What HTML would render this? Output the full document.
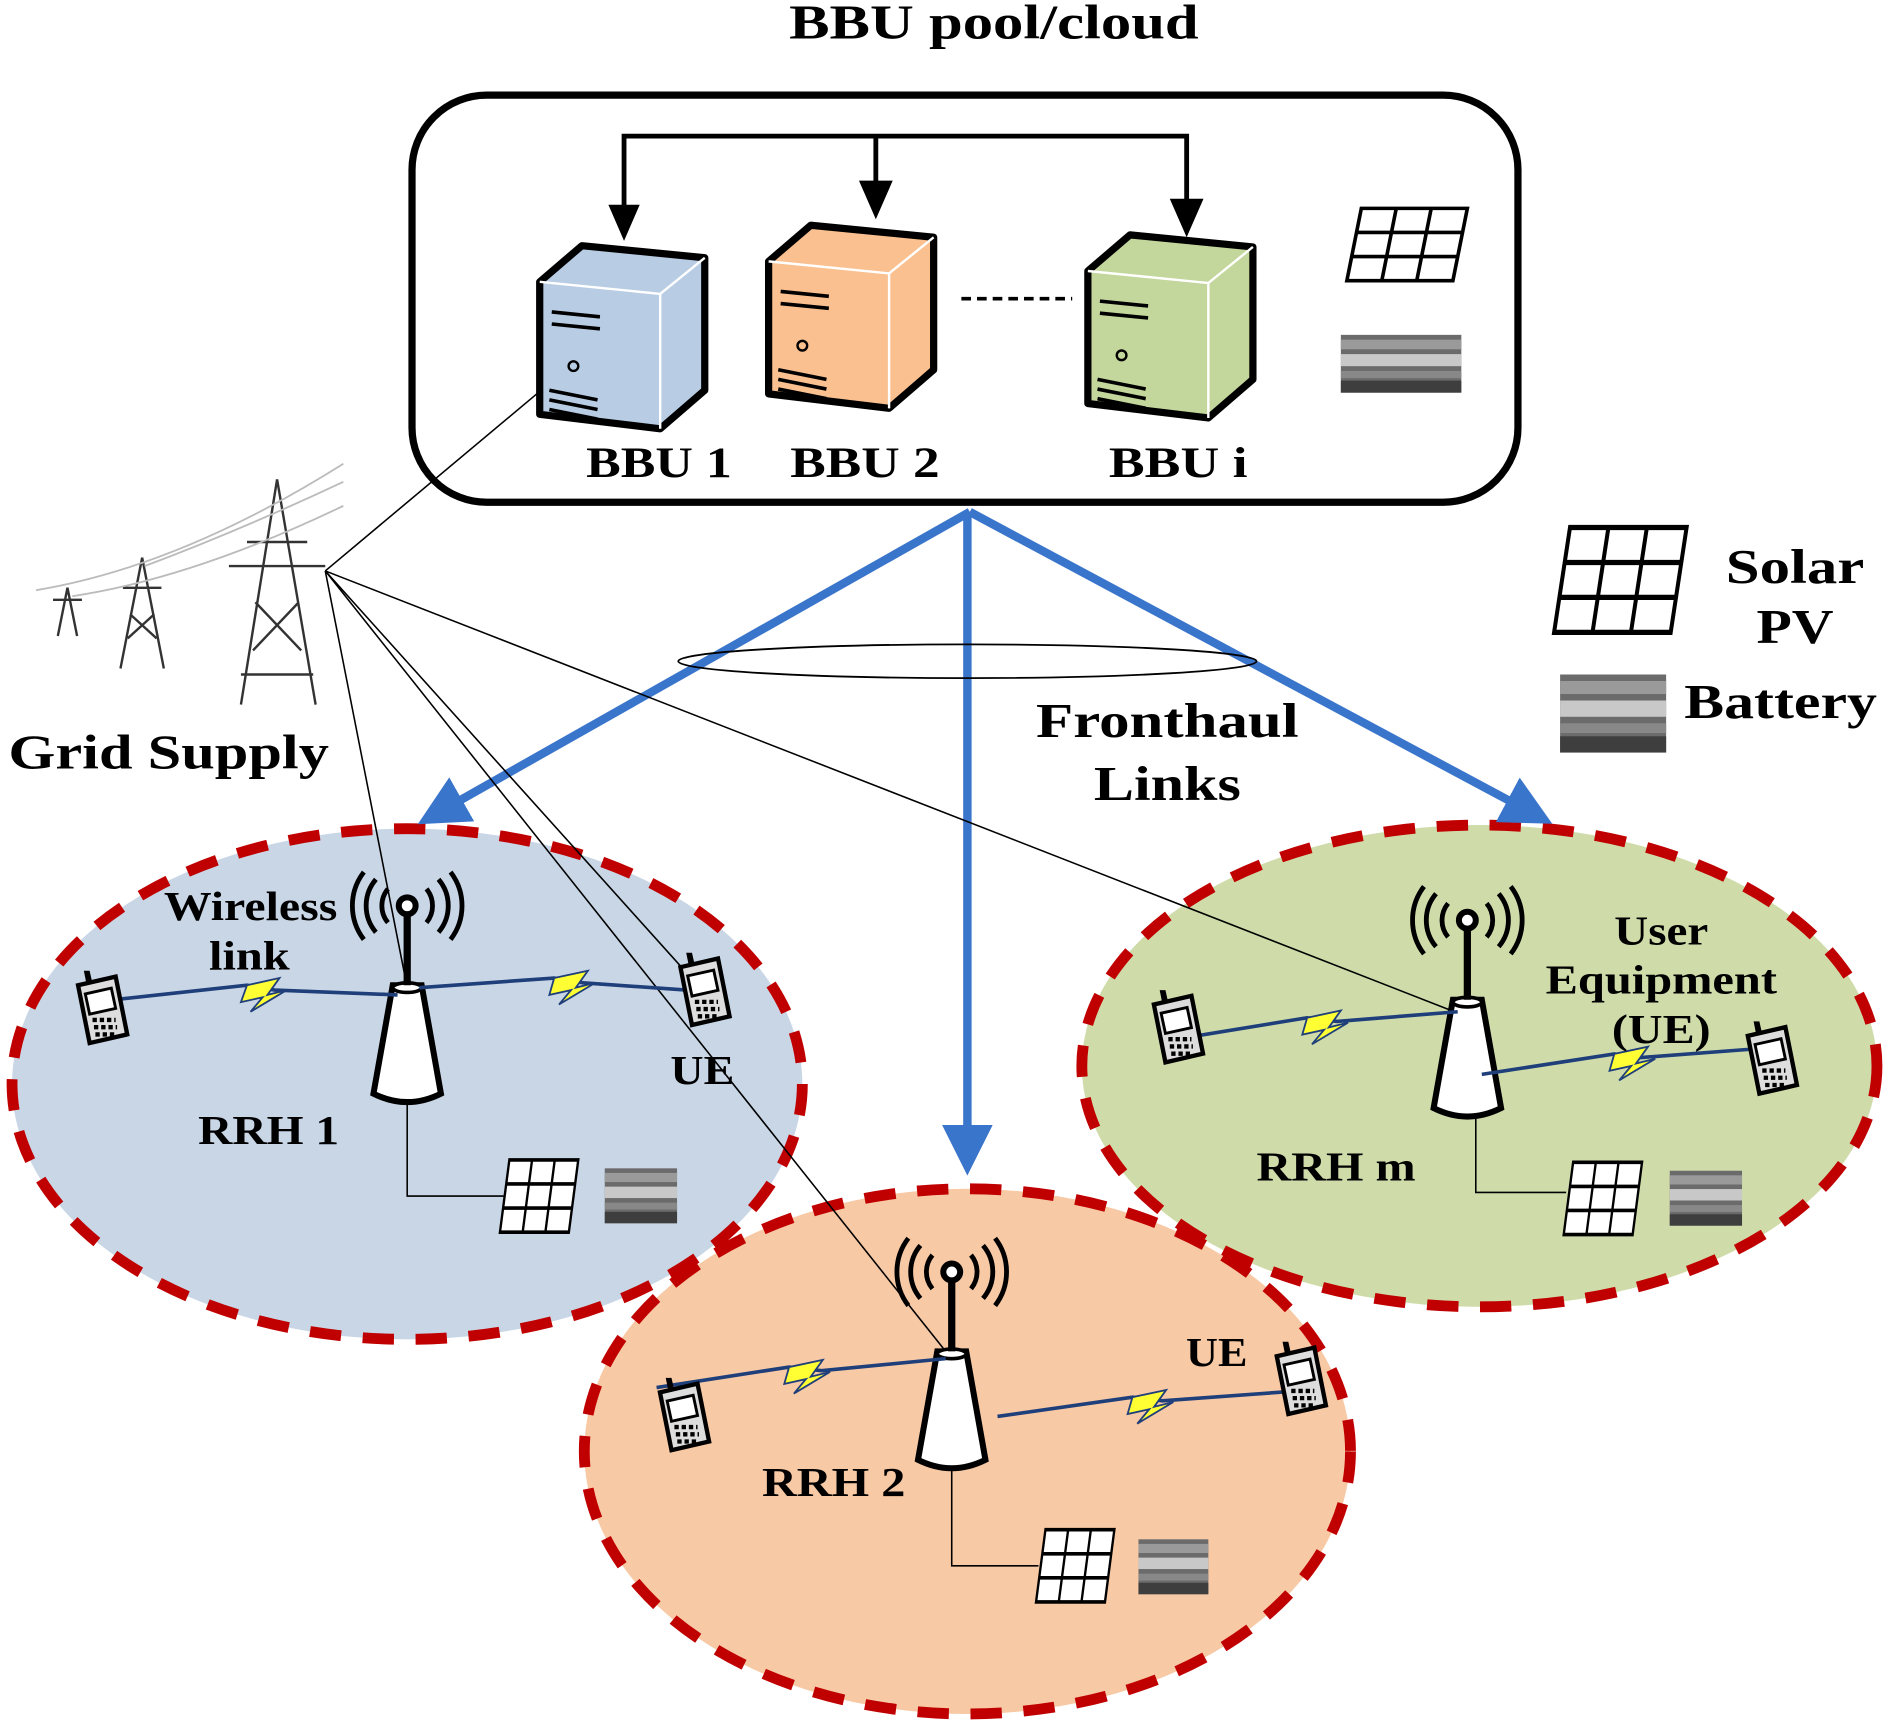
<!DOCTYPE html>
<html><head><meta charset="utf-8"><style>html,body{margin:0;padding:0;background:#fff}svg{display:block}</style></head>
<body>
<svg width="1889" height="1726" viewBox="0 0 1568 1433" preserveAspectRatio="none" xmlns="http://www.w3.org/2000/svg" font-family="Liberation Serif, serif" font-weight="bold">
<defs>
<g id="panel"><path d="M12 0 H100 L88 60 H0 Z" fill="#fff" stroke="#000" stroke-width="3"/><path d="M41 0 L29 60 M70 0 L58 60 M8 20 H96 M4 40 H92" stroke="#000" stroke-width="3"/></g>
<g id="bat"><rect width="100" height="48" fill="#6b6b6b"/><rect y="4" width="100" height="8" fill="#9a9a9a"/><rect y="16" width="100" height="10" fill="#c8c8c8"/><rect y="30" width="100" height="6" fill="#888"/><rect y="38" width="100" height="10" fill="#3e3e3e"/></g>
<g id="phone"><path d="M4 10 L30 4 L38 44 L12 50 Z" fill="#ddd" stroke="#000" stroke-width="3"/><path d="M9 16 L27 12 L30 26 L12 30 Z" fill="#fff" stroke="#000" stroke-width="2"/><path d="M14 34h16M15 39h16M16 44h14" stroke="#000" stroke-width="3" stroke-dasharray="3 2"/><path d="M10 10 L8 0 L12 0 L14 9" fill="#000"/></g>
<g id="rrh"><path d="M-12 0 L12 0 L28 90 Q0 104 -28 90 Z" fill="#fff" stroke="#000" stroke-width="5"/><ellipse cx="0" cy="2" rx="12" ry="4" fill="#fff" stroke="#000" stroke-width="3"/><line x1="0" y1="0" x2="0" y2="-62" stroke="#000" stroke-width="6"/><circle cx="0" cy="-66" r="7" fill="#fff" stroke="#000" stroke-width="5"/><path d="M-16 -80 a22 22 0 0 0 0 28 M16 -80 a22 22 0 0 1 0 28 M-26 -88 a34 34 0 0 0 0 44 M26 -88 a34 34 0 0 1 0 44 M-36 -94 a46 46 0 0 0 0 56 M36 -94 a46 46 0 0 1 0 56" fill="none" stroke="#000" stroke-width="4"/></g>
<g id="srv"><path d="M0 30 L35 0 L137 10 L137 120 L100 152 L0 140 Z" fill="currentColor" stroke="#000" stroke-width="6" stroke-linejoin="round"/><path d="M0 30 L100 40 L137 10 M100 40 L100 152" fill="none" stroke="#fff" stroke-width="2"/><path d="M10 55 l40 4 M10 65 l40 4 M8 120 l40 8 M8 128 l40 8 M8 136 l40 8" stroke="#000" stroke-width="3"/><circle cx="28" cy="100" r="4" fill="none" stroke="#000" stroke-width="2"/></g>
<marker id="bh" markerWidth="6" markerHeight="6" refX="3" refY="3" orient="auto" markerUnits="strokeWidth"><path d="M0 0 L6 3 L0 6 Z" fill="#3a75cc"/></marker>
</defs>
<text x="825" y="32" font-size="40" text-anchor="middle" textLength="340" lengthAdjust="spacingAndGlyphs">BBU pool/cloud</text>
<rect x="342" y="79" width="918" height="338" rx="62" fill="#fff" stroke="#000" stroke-width="6"/>
<path d="M518 190 V113 H985 V190 M727 113 V175" fill="none" stroke="#000" stroke-width="4"/>
<path d="M505 170 L531 170 L518 200Z M713 150 L741 150 L727 182Z M971 165 L999 165 L985 197Z" fill="#000"/>
<g color="#b8cce4" transform="translate(448,204)"><use href="#srv"/></g>
<g color="#fac090" transform="translate(638,187)"><use href="#srv"/></g>
<g color="#c3d69b" transform="translate(903,195)"><use href="#srv"/></g>
<line x1="798" y1="248" x2="890" y2="248" stroke="#000" stroke-width="3" stroke-dasharray="8 5"/>
<use href="#panel" transform="translate(1118,173)"/>
<use href="#bat" transform="translate(1113,278)"/>
<text x="547" y="396" font-size="36" text-anchor="middle" textLength="121" lengthAdjust="spacingAndGlyphs">BBU 1</text>
<text x="718" y="396" font-size="36" text-anchor="middle" textLength="124" lengthAdjust="spacingAndGlyphs">BBU 2</text>
<text x="978" y="396" font-size="36" text-anchor="middle" textLength="115" lengthAdjust="spacingAndGlyphs">BBU i</text>
<ellipse cx="338" cy="900" rx="328" ry="212" fill="#c9d6e6" stroke="#c00000" stroke-width="9" stroke-dasharray="26 18"/>
<ellipse cx="1228" cy="885" rx="330" ry="200" fill="#cfdcaa" stroke="#c00000" stroke-width="9" stroke-dasharray="26 18"/>
<ellipse cx="803" cy="1205" rx="318" ry="218" fill="#f8c9a5" stroke="#c00000" stroke-width="9" stroke-dasharray="26 18"/>
<g stroke="#3a75cc" stroke-width="7" fill="none">
<line x1="805" y1="425" x2="365" y2="674" marker-end="url(#bh)"/>
<line x1="803" y1="425" x2="803" y2="955" marker-end="url(#bh)"/>
<line x1="805" y1="425" x2="1270" y2="674" marker-end="url(#bh)"/>
</g>
<ellipse cx="803" cy="549" rx="240" ry="14" fill="none" stroke="#000" stroke-width="1.5"/>
<text x="969" y="612" font-size="40" text-anchor="middle" textLength="218" lengthAdjust="spacingAndGlyphs">Fronthaul</text>
<text x="969" y="664" font-size="40" text-anchor="middle" textLength="122" lengthAdjust="spacingAndGlyphs">Links</text>
<use href="#panel" transform="translate(1290,438) scale(1.1,1.45)"/>
<text x="1490" y="484" font-size="40" text-anchor="middle" textLength="115" lengthAdjust="spacingAndGlyphs">Solar</text>
<text x="1490" y="534" font-size="40" text-anchor="middle" textLength="64" lengthAdjust="spacingAndGlyphs">PV</text>
<use href="#bat" transform="translate(1295,560) scale(0.88,1.35)"/>
<text x="1478" y="596" font-size="40" text-anchor="middle" textLength="160" lengthAdjust="spacingAndGlyphs">Battery</text>
<g stroke="#333" fill="none" stroke-width="2">
<path d="M230 398 L200 585 M230 398 L262 585 M205 450 H255 M190 470 H270 M212 500 L250 540 M248 500 L210 540 M200 560 L260 560"/>
<path d="M118 463 L100 555 M118 463 L136 555 M102 488 H134 M108 510 L130 530 M128 510 L106 530"/>
<path d="M56 488 L48 528 M56 488 L64 528 M44 498 H68"/>
<path d="M30 490 Q150 470 285 385 M60 495 Q160 480 285 420 M120 470 Q200 440 285 400" stroke="#bbb" stroke-width="1.5"/>
</g>
<text x="140" y="638" font-size="40" text-anchor="middle" textLength="266" lengthAdjust="spacingAndGlyphs">Grid Supply</text>
<g stroke="#000" stroke-width="1.3" fill="none">
<line x1="270" y1="474" x2="448" y2="325"/>
<line x1="270" y1="474" x2="338" y2="820"/>
<line x1="270" y1="474" x2="590" y2="830"/>
<line x1="270" y1="474" x2="785" y2="1122"/>
<line x1="270" y1="474" x2="1215" y2="843"/>
<path d="M338 905 V993 H418 M790 1215 V1300 H862 M1225 925 V990 H1300"/>
</g>
<use href="#rrh" transform="translate(338,818)"/>
<use href="#rrh" transform="translate(790,1122)"/>
<use href="#rrh" transform="translate(1218,830)"/>
<g stroke="#1f3f7a" stroke-width="3" fill="none">
<path d="M95 830 L205 818 L228 822 L330 826"/>
<path d="M348 820 L460 812 L484 816 L598 824"/>
<path d="M545 1152 L655 1135 L682 1138 L785 1128"/>
<path d="M828 1176 L940 1160 L965 1163 L1075 1155"/>
<path d="M975 863 L1085 845 L1110 848 L1210 840"/>
<path d="M1230 892 L1340 875 L1362 878 L1468 870"/>
</g>
<g fill="#ffff33" stroke="#1f3f7a" stroke-width="1.5">
<path d="M205 818 L232 812 L222 826 L238 822 L208 840 L218 828 L200 832Z"/>
<path d="M460 812 L488 806 L478 820 L494 816 L464 834 L474 822 L456 826Z"/>
<path d="M655 1135 L683 1129 L673 1143 L689 1139 L659 1157 L669 1145 L651 1149Z"/>
<path d="M940 1160 L968 1154 L958 1168 L974 1164 L944 1182 L954 1170 L936 1174Z"/>
<path d="M1085 845 L1113 839 L1103 853 L1119 849 L1089 867 L1099 855 L1081 859Z"/>
<path d="M1340 875 L1368 869 L1358 883 L1374 879 L1344 897 L1354 885 L1336 889Z"/>
</g>
<use href="#phone" transform="translate(60,806) scale(1.2)"/>
<use href="#phone" transform="translate(560,791) scale(1.2)"/>
<use href="#phone" transform="translate(543,1144) scale(1.2)"/>
<use href="#phone" transform="translate(1055,1114) scale(1.2)"/>
<use href="#phone" transform="translate(953,822) scale(1.2)"/>
<use href="#phone" transform="translate(1446,848) scale(1.2)"/>
<use href="#panel" transform="translate(415,963) scale(0.65,1)"/>
<use href="#bat" transform="translate(502,970) scale(0.6,0.95)"/>
<use href="#panel" transform="translate(860,1270) scale(0.65,1)"/>
<use href="#bat" transform="translate(945,1278) scale(0.58,0.95)"/>
<use href="#panel" transform="translate(1298,965) scale(0.65,1)"/>
<use href="#bat" transform="translate(1386,972) scale(0.6,0.95)"/>
<text x="208" y="764" font-size="34" text-anchor="middle" textLength="144" lengthAdjust="spacingAndGlyphs">Wireless</text>
<text x="207" y="805" font-size="34" text-anchor="middle" textLength="67" lengthAdjust="spacingAndGlyphs">link</text>
<text x="583" y="900" font-size="34" text-anchor="middle" textLength="53" lengthAdjust="spacingAndGlyphs">UE</text>
<text x="223" y="950" font-size="34" text-anchor="middle" textLength="117" lengthAdjust="spacingAndGlyphs">RRH 1</text>
<text x="692" y="1242" font-size="34" text-anchor="middle" textLength="119" lengthAdjust="spacingAndGlyphs">RRH 2</text>
<text x="1010" y="1134" font-size="34" text-anchor="middle" textLength="51" lengthAdjust="spacingAndGlyphs">UE</text>
<text x="1379" y="784" font-size="34" text-anchor="middle" textLength="78" lengthAdjust="spacingAndGlyphs">User</text>
<text x="1379" y="825" font-size="34" text-anchor="middle" textLength="192" lengthAdjust="spacingAndGlyphs">Equipment</text>
<text x="1379" y="866" font-size="34" text-anchor="middle" textLength="82" lengthAdjust="spacingAndGlyphs">(UE)</text>
<text x="1109" y="980" font-size="34" text-anchor="middle" textLength="132" lengthAdjust="spacingAndGlyphs">RRH m</text>
</svg>
</body></html>
